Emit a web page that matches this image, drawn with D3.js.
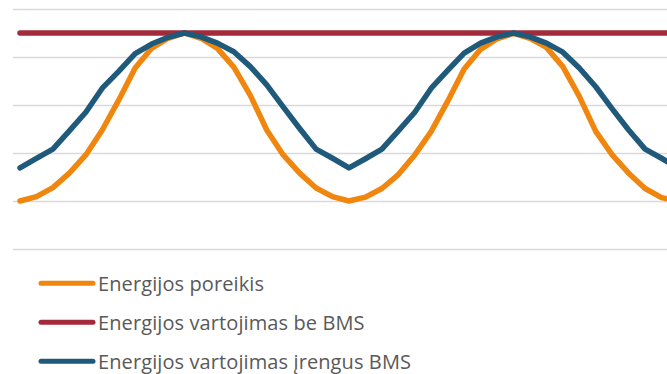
<!DOCTYPE html>
<html>
<head>
<meta charset="utf-8">
<script src="https://cdn.jsdelivr.net/npm/d3@7"></script>
<style>
  html, body { margin: 0; padding: 0; background: #fff; }
  svg { display: block; }
</style>
</head>
<body>
<svg id="chart" width="667" height="374"></svg>
<script>
// Hourly points over two daily cycles (index = time step)
const steps = d3.range(0, 41);

// Energy demand
const demand = [
  1.00, 1.09, 1.28, 1.58, 1.96, 2.48, 3.10, 3.77, 4.18, 4.39, 4.50,
  4.39, 4.18, 3.79, 3.20, 2.48, 1.96, 1.58, 1.27, 1.09, 1.00,
  1.08, 1.26, 1.55, 1.96, 2.45, 3.08, 3.75, 4.16, 4.38, 4.49,
  4.39, 4.20, 3.80, 3.18, 2.45, 1.96, 1.58, 1.26, 1.07, 1.00
];

// Energy use without BMS (flat at peak demand)
const withoutBMS = [
  4.5, 4.5, 4.5, 4.5, 4.5, 4.5, 4.5, 4.5, 4.5, 4.5, 4.5,
  4.5, 4.5, 4.5, 4.5, 4.5, 4.5, 4.5, 4.5, 4.5, 4.5,
  4.5, 4.5, 4.5, 4.5, 4.5, 4.5, 4.5, 4.5, 4.5, 4.5,
  4.5, 4.5, 4.5, 4.5, 4.5, 4.5, 4.5, 4.5, 4.5, 4.5
];

// Energy use with BMS installed
const withBMS = [
  1.69, 1.89, 2.08, 2.46, 2.85, 3.35, 3.70, 4.07, 4.27, 4.41, 4.50,
  4.42, 4.29, 4.11, 3.80, 3.42, 2.96, 2.51, 2.08, 1.89, 1.69,
  1.88, 2.08, 2.46, 2.85, 3.35, 3.72, 4.08, 4.29, 4.42, 4.50,
  4.42, 4.29, 4.10, 3.77, 3.38, 2.92, 2.48, 2.08, 1.89, 1.69
];

const yTicks = [0, 1, 2, 3, 4, 5];

const seriesNames = [
  "Energijos poreikis",
  "Energijos vartojimas be BMS",
  "Energijos vartojimas įrengus BMS"
];
const seriesColors = ["#F0860E", "#A22A3A", "#1F5A7B"];
const seriesValues = [demand, withoutBMS, withBMS];

const svg = d3.select("#chart");

const x = d3.scaleLinear().domain([0, 40]).range([20, 678]);
const y = d3.scaleLinear().domain([0, 5]).range([249, 9]);

// Horizontal gridlines
const grid = d3.axisLeft(y)
  .tickValues(yTicks)
  .tickSize(-(700 - 13))
  .tickFormat("");
svg.append("g")
  .attr("transform", "translate(13,0)")
  .call(grid)
  .call(g => g.select(".domain").remove())
  .call(g => g.selectAll(".tick line")
    .attr("stroke", "#D9D9D9")
    .attr("stroke-width", 1.5));

const line = d3.line()
  .x((d, i) => x(steps[i]))
  .y(d => y(d));

svg.append("g")
  .selectAll("path")
  .data(seriesValues)
  .join("path")
  .attr("d", d => line(d))
  .attr("fill", "none")
  .attr("stroke", (d, i) => seriesColors[i])
  .attr("stroke-width", 5.5)
  .attr("stroke-linejoin", "round")
  .attr("stroke-linecap", "round");

// Legend
const legend = svg.append("g")
  .selectAll("g")
  .data(seriesNames)
  .join("g")
  .attr("transform", (d, i) => `translate(0,${283.3 + i * 39})`);

legend.append("line")
  .attr("x1", 41).attr("x2", 93)
  .attr("y1", 0).attr("y2", 0)
  .attr("stroke", (d, i) => seriesColors[i])
  .attr("stroke-width", 5)
  .attr("stroke-linecap", "round");

legend.append("text")
  .attr("x", 98)
  .attr("y", 0)
  .attr("dy", "0.36em")
  .attr("font-family", "'Open Sans', sans-serif")
  .attr("font-size", 20)
  .attr("letter-spacing", 0.1)
  .attr("fill", "#595959")
  .text(d => d);
</script>
</body>
</html>
